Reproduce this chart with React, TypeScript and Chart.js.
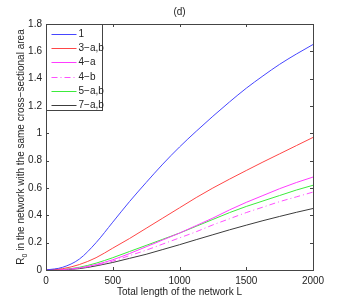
import React, { useEffect, useRef } from "react";
import { Chart, registerables } from "chart.js";

Chart.register(...registerables);

const lengths = [0, 125, 250, 375, 500, 625, 750, 875, 1000, 1125, 1250, 1375, 1500, 1625, 1750, 1875, 2000];
const series1 = [0, 0.02, 0.08, 0.2, 0.35, 0.5, 0.64, 0.775, 0.9, 1.015, 1.125, 1.23, 1.33, 1.42, 1.505, 1.58, 1.65];
const series3ab = [0, 0.01, 0.04, 0.09, 0.16, 0.23, 0.305, 0.38, 0.455, 0.53, 0.6, 0.665, 0.728, 0.79, 0.85, 0.91, 0.97];
const series4a = [0, 0.003, 0.015, 0.04, 0.075, 0.12, 0.17, 0.22, 0.27, 0.325, 0.38, 0.44, 0.495, 0.545, 0.595, 0.64, 0.68];
const series4b = [0, 0.003, 0.015, 0.035, 0.065, 0.105, 0.145, 0.19, 0.235, 0.28, 0.33, 0.375, 0.42, 0.46, 0.5, 0.535, 0.57];
const series5ab = [0, 0.004, 0.02, 0.05, 0.09, 0.135, 0.18, 0.225, 0.27, 0.32, 0.37, 0.42, 0.465, 0.505, 0.545, 0.585, 0.62];
const series7ab = [0, 0.002, 0.01, 0.03, 0.055, 0.085, 0.115, 0.15, 0.185, 0.222, 0.258, 0.294, 0.328, 0.361, 0.392, 0.422, 0.45];
const seriesLabels = ["1", "3\u2212a,b", "4\u2212a", "4\u2212b", "5\u2212a,b", "7\u2212a,b"];
const xTicks = [0, 500, 1000, 1500, 2000];
const yTicks = [0, 0.2, 0.4, 0.6, 0.8, 1, 1.2, 1.4, 1.6, 1.8];
const titleText = "(d)";
const xTitle = "Total length of the network L";
const yTitleMain = "R";
const yTitleSub = "0";
const yTitleRest = " in the network with the same cross\u2212sectional area";

const FONT = "Liberation Sans, Arial, sans-serif";
const AXIS = "#444";

const overlay = {
  id: "overlay",
  afterDraw(chart: any) {
    const ctx = chart.ctx;
    const a = chart.chartArea;
    const xs = chart.scales.x;
    const ys = chart.scales.y;
    ctx.save();
    ctx.strokeStyle = AXIS;
    ctx.lineWidth = 1;
    ctx.strokeRect(Math.round(a.left) + 0.5, Math.round(a.top) + 0.5, Math.round(a.right - a.left), Math.round(a.bottom - a.top));
    const tl = 3;
    ctx.beginPath();
    xTicks.forEach((v) => {
      const px = Math.round(xs.getPixelForValue(v)) + 0.5;
      ctx.moveTo(px, a.bottom);
      ctx.lineTo(px, a.bottom - tl);
      ctx.moveTo(px, a.top);
      ctx.lineTo(px, a.top + tl);
    });
    yTicks.forEach((v) => {
      const py = Math.round(ys.getPixelForValue(v)) + 0.5;
      ctx.moveTo(a.left, py);
      ctx.lineTo(a.left + tl, py);
      ctx.moveTo(a.right, py);
      ctx.lineTo(a.right - tl, py);
    });
    ctx.stroke();

    ctx.fillStyle = "#222";
    ctx.font = `10px ${FONT}`;
    ctx.textAlign = "center";
    ctx.textBaseline = "middle";
    ctx.fillText(titleText, (a.left + a.right) / 2, 12);
    ctx.fillText(xTitle, (a.left + a.right) / 2, 292);

    ctx.save();
    ctx.translate(21, (a.top + a.bottom) / 2);
    ctx.rotate(-Math.PI / 2);
    ctx.font = `10px ${FONT}`;
    const wMain = ctx.measureText(yTitleMain).width;
    ctx.font = `7px ${FONT}`;
    const wSub = ctx.measureText(yTitleSub).width;
    ctx.font = `10px ${FONT}`;
    const wRest = ctx.measureText(yTitleRest).width;
    const total = wMain + wSub + wRest;
    let x0 = -total / 2;
    ctx.textAlign = "left";
    ctx.textBaseline = "alphabetic";
    ctx.fillText(yTitleMain, x0, 3);
    x0 += wMain;
    ctx.font = `7px ${FONT}`;
    ctx.fillText(yTitleSub, x0, 6);
    x0 += wSub;
    ctx.font = `10px ${FONT}`;
    ctx.fillText(yTitleRest, x0, 3);
    ctx.restore();

    const lx = Math.round(a.left) + 0.5;
    const ly = Math.round(a.top) + 0.5;
    const lw = 56;
    const lh = 86;
    ctx.fillStyle = "#fff";
    ctx.fillRect(lx, ly, lw, lh);
    ctx.strokeStyle = AXIS;
    ctx.strokeRect(lx, ly, lw, lh);
    chart.data.datasets.forEach((ds: any, i: number) => {
      const yy = Math.round(ly + 9.5 + i * 14.2) + 0.5;
      ctx.strokeStyle = ds.borderColor;
      ctx.lineWidth = 1;
      ctx.setLineDash(ds.borderDash || []);
      ctx.beginPath();
      ctx.moveTo(lx + 5, yy);
      ctx.lineTo(lx + 30, yy);
      ctx.stroke();
      ctx.setLineDash([]);
      ctx.fillStyle = "#222";
      ctx.font = `10px ${FONT}`;
      ctx.textAlign = "left";
      ctx.textBaseline = "middle";
      ctx.fillText(ds.label, lx + 32, yy);
    });
    ctx.restore();
  },
};

export default function App() {
  const ref = useRef<HTMLCanvasElement>(null);
  useEffect(() => {
    if (!ref.current) return;
    const mk = (vals: number[]) => lengths.map((x, i) => ({ x, y: vals[i] }));
    const base = {
      borderWidth: 1,
      pointRadius: 0,
      fill: false,
      cubicInterpolationMode: "monotone" as const,
    };
    const chart = new Chart(ref.current, {
      type: "line",
      data: {
        datasets: [
          { ...base, label: seriesLabels[0], data: mk(series1), borderColor: "rgb(70,70,255)" },
          { ...base, label: seriesLabels[1], data: mk(series3ab), borderColor: "rgb(255,70,70)" },
          { ...base, label: seriesLabels[2], data: mk(series4a), borderColor: "rgb(255,60,255)" },
          { ...base, label: seriesLabels[3], data: mk(series4b), borderColor: "rgb(255,80,255)", borderDash: [6, 3, 1, 3] },
          { ...base, label: seriesLabels[4], data: mk(series5ab), borderColor: "rgb(60,235,60)" },
          { ...base, label: seriesLabels[5], data: mk(series7ab), borderColor: "rgb(60,60,60)" },
        ],
      },
      options: {
        animation: false,
        responsive: false,
        layout: { padding: { top: 24, right: 33, left: 0, bottom: 0 } },
        plugins: { legend: { display: false }, tooltip: { enabled: false }, title: { display: false } },
        scales: {
          x: {
            type: "linear",
            min: 0,
            max: 2000,
            afterFit: (s: any) => {
              s.height = 35;
            },
            afterBuildTicks: (s: any) => {
              s.ticks = xTicks.map((v) => ({ value: v }));
            },
            grid: { display: false, drawTicks: false },
            border: { display: false },
            ticks: { color: "#222", font: { family: FONT, size: 10 }, padding: 5, maxRotation: 0, autoSkip: false, callback: (v: any) => String(v) },
          },
          y: {
            type: "linear",
            min: 0,
            max: 1.8,
            afterFit: (s: any) => {
              s.width = 46;
            },
            afterBuildTicks: (s: any) => {
              s.ticks = yTicks.map((v) => ({ value: v }));
            },
            grid: { display: false, drawTicks: false },
            border: { display: false },
            ticks: { color: "#222", font: { family: FONT, size: 10 }, padding: 4, autoSkip: false, callback: (v: any) => String(+Number(v).toFixed(1)) },
          },
        },
      },
      plugins: [overlay],
    });
    return () => chart.destroy();
  }, []);
  return (
    <div style={{ position: "fixed", left: 0, top: 0, width: 346, height: 305, background: "#fff" }}>
      <canvas ref={ref} width={346} height={305} style={{ width: 346, height: 305 }} />
    </div>
  );
}
